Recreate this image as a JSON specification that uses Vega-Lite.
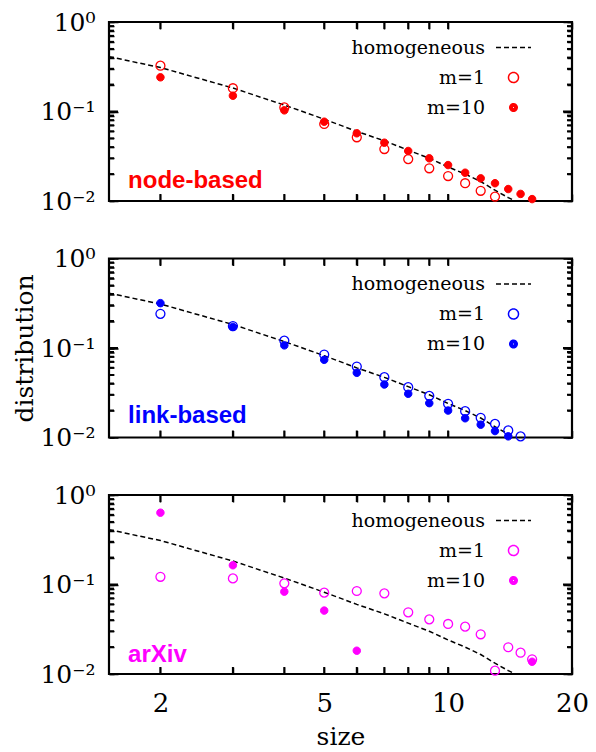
{
  "$schema": "https://vega.github.io/schema/vega-lite/v6.json",
  "background": "white",
  "padding": {"left": 11, "top": 8, "right": 5, "bottom": 5},
  "spacing": 57.5,
  "bounds": "flush",
  "datasets": {
    "xticks": [{"v": 2}, {"v": 3}, {"v": 4}, {"v": 5}, {"v": 6}, {"v": 7}, {"v": 8}, {"v": 9}, {"v": 10}],
    "yticks": [{"v": 0.02}, {"v": 0.03}, {"v": 0.04}, {"v": 0.05}, {"v": 0.06}, {"v": 0.07}, {"v": 0.08}, {"v": 0.09}, {"v": 0.1}, {"v": 0.2}, {"v": 0.3}, {"v": 0.4}, {"v": 0.5}, {"v": 0.6}, {"v": 0.7}, {"v": 0.8}, {"v": 0.9}],
    "homog": [
      {"size": 1.5, "series": "homogeneous", "p": 0.41},
      {"size": 2, "series": "homogeneous", "p": 0.31},
      {"size": 3, "series": "homogeneous", "p": 0.183},
      {"size": 4, "series": "homogeneous", "p": 0.118},
      {"size": 5, "series": "homogeneous", "p": 0.082},
      {"size": 6, "series": "homogeneous", "p": 0.060},
      {"size": 7, "series": "homogeneous", "p": 0.047},
      {"size": 8, "series": "homogeneous", "p": 0.037},
      {"size": 9, "series": "homogeneous", "p": 0.030},
      {"size": 10, "series": "homogeneous", "p": 0.024},
      {"size": 11, "series": "homogeneous", "p": 0.020},
      {"size": 12, "series": "homogeneous", "p": 0.0165},
      {"size": 13, "series": "homogeneous", "p": 0.0132},
      {"size": 14, "series": "homogeneous", "p": 0.0109},
      {"size": 15, "series": "homogeneous", "p": 0.0094}
    ],
    "node": [
      {"size": 2, "series": "m=1", "p": 0.325},
      {"size": 3, "series": "m=1", "p": 0.182},
      {"size": 4, "series": "m=1", "p": 0.111},
      {"size": 5, "series": "m=1", "p": 0.0725},
      {"size": 6, "series": "m=1", "p": 0.0515},
      {"size": 7, "series": "m=1", "p": 0.0381},
      {"size": 8, "series": "m=1", "p": 0.0294},
      {"size": 9, "series": "m=1", "p": 0.0232},
      {"size": 10, "series": "m=1", "p": 0.0190},
      {"size": 11, "series": "m=1", "p": 0.0158},
      {"size": 12, "series": "m=1", "p": 0.0130},
      {"size": 13, "series": "m=1", "p": 0.0112},
      {"size": 2, "series": "m=10", "p": 0.241},
      {"size": 3, "series": "m=10", "p": 0.150},
      {"size": 4, "series": "m=10", "p": 0.103},
      {"size": 5, "series": "m=10", "p": 0.0769},
      {"size": 6, "series": "m=10", "p": 0.0571},
      {"size": 7, "series": "m=10", "p": 0.0448},
      {"size": 8, "series": "m=10", "p": 0.0362},
      {"size": 9, "series": "m=10", "p": 0.0300},
      {"size": 10, "series": "m=10", "p": 0.0252},
      {"size": 11, "series": "m=10", "p": 0.0207},
      {"size": 12, "series": "m=10", "p": 0.0179},
      {"size": 13, "series": "m=10", "p": 0.0158},
      {"size": 14, "series": "m=10", "p": 0.0136},
      {"size": 15, "series": "m=10", "p": 0.0120},
      {"size": 16, "series": "m=10", "p": 0.0105}
    ],
    "link": [
      {"size": 2, "series": "m=1", "p": 0.241},
      {"size": 3, "series": "m=1", "p": 0.176},
      {"size": 4, "series": "m=1", "p": 0.121},
      {"size": 5, "series": "m=1", "p": 0.0846},
      {"size": 6, "series": "m=1", "p": 0.0621},
      {"size": 7, "series": "m=1", "p": 0.0472},
      {"size": 8, "series": "m=1", "p": 0.0365},
      {"size": 9, "series": "m=1", "p": 0.0292},
      {"size": 10, "series": "m=1", "p": 0.0238},
      {"size": 11, "series": "m=1", "p": 0.0197},
      {"size": 12, "series": "m=1", "p": 0.0166},
      {"size": 13, "series": "m=1", "p": 0.0142},
      {"size": 14, "series": "m=1", "p": 0.0120},
      {"size": 15, "series": "m=1", "p": 0.0103},
      {"size": 2, "series": "m=10", "p": 0.317},
      {"size": 3, "series": "m=10", "p": 0.172},
      {"size": 4, "series": "m=10", "p": 0.107},
      {"size": 5, "series": "m=10", "p": 0.0738},
      {"size": 6, "series": "m=10", "p": 0.0528},
      {"size": 7, "series": "m=10", "p": 0.0391},
      {"size": 8, "series": "m=10", "p": 0.0308},
      {"size": 9, "series": "m=10", "p": 0.0242},
      {"size": 10, "series": "m=10", "p": 0.0200},
      {"size": 11, "series": "m=10", "p": 0.0164},
      {"size": 12, "series": "m=10", "p": 0.0139},
      {"size": 13, "series": "m=10", "p": 0.0118},
      {"size": 14, "series": "m=10", "p": 0.0103}
    ],
    "arxiv": [
      {"size": 2, "series": "m=1", "p": 0.122},
      {"size": 3, "series": "m=1", "p": 0.117},
      {"size": 4, "series": "m=1", "p": 0.103},
      {"size": 5, "series": "m=1", "p": 0.0811},
      {"size": 6, "series": "m=1", "p": 0.0846},
      {"size": 7, "series": "m=1", "p": 0.0796},
      {"size": 8, "series": "m=1", "p": 0.0489},
      {"size": 9, "series": "m=1", "p": 0.0408},
      {"size": 10, "series": "m=1", "p": 0.0362},
      {"size": 11, "series": "m=1", "p": 0.0338},
      {"size": 12, "series": "m=1", "p": 0.0278},
      {"size": 13, "series": "m=1", "p": 0.0109},
      {"size": 14, "series": "m=1", "p": 0.0199},
      {"size": 15, "series": "m=1", "p": 0.0173},
      {"size": 16, "series": "m=1", "p": 0.0146},
      {"size": 2, "series": "m=10", "p": 0.634},
      {"size": 3, "series": "m=10", "p": 0.164},
      {"size": 4, "series": "m=10", "p": 0.0832},
      {"size": 5, "series": "m=10", "p": 0.0511},
      {"size": 6, "series": "m=10", "p": 0.0182},
      {"size": 16, "series": "m=10", "p": 0.0137}
    ]
  },
  "vconcat": [
    {
      "width": 463, "height": 179,
      "layer": [
        {
          "data": {"name": "homog"},
          "mark": {"type": "line", "clip": true, "strokeWidth": 1.5},
          "encoding": {
            "x": {"field": "size", "type": "quantitative", "scale": {"type": "log", "domain": [1.5, 20], "nice": false},
              "axis": {"orient": "bottom", "values": [2,3,4,5,6,7,8,9,10,20], "labels": false, "title": null, "tickSize": 7, "offset": -7}},
            "y": {"field": "p", "type": "quantitative", "scale": {"type": "log", "domain": [0.01, 1], "nice": false},
              "axis": {"orient": "left", "values": [0.01,0.02,0.03,0.04,0.05,0.06,0.07,0.08,0.09,0.1,0.2,0.3,0.4,0.5,0.6,0.7,0.8,0.9,1], "tickSize": 5, "offset": -5, "labelOverlap": false, "labelPadding": 14, "labelExpr": "datum.value == 1 ? '10⁰' : datum.value == 0.1 ? '10⁻¹' : datum.value == 0.01 ? '10⁻²' : ''", "title": null}},
            "stroke": {"field": "series", "type": "nominal", "scale": {"domain": ["homogeneous", "m=1", "m=10"], "range": ["black", "#ff0000", "#ff0000"]},
              "legend": {"title": null, "orient": "none", "legendX": 350, "legendY": 16, "padding": 0, "labelAlign": "right", "labelOffset": -38, "symbolOffset": 45, "rowPadding": 10, "symbolSize": 100, "labelLimit": 400, "symbolStrokeWidth": 1.5}},
            "strokeDash": {"field": "series", "type": "nominal", "scale": {"domain": ["homogeneous", "m=1", "m=10"], "range": [[5, 3], [1, 0], [1, 0]]},
              "legend": {"title": null, "orient": "none", "legendX": 350, "legendY": 16, "padding": 0, "labelAlign": "right", "labelOffset": -38, "symbolOffset": 45, "rowPadding": 10, "symbolSize": 100, "labelLimit": 400, "symbolStrokeWidth": 1.5}}
          }
        },
        {
          "data": {"name": "node"},
          "transform": [{"filter": "datum.series === 'm=1'"}],
          "mark": {"type": "point", "filled": false, "size": 80, "strokeWidth": 1.3, "opacity": 1},
          "encoding": {
            "x": {"field": "size", "type": "quantitative", "axis": {"orient": "top", "values": [2,3,4,5,6,7,8,9,10,20], "labels": false, "title": null, "tickSize": 7, "offset": -7}},
            "y": {"field": "p", "type": "quantitative", "axis": {"orient": "right", "values": [0.01,0.02,0.03,0.04,0.05,0.06,0.07,0.08,0.09,0.1,0.2,0.3,0.4,0.5,0.6,0.7,0.8,0.9,1], "labels": false, "title": null, "tickSize": 5, "offset": -5}},
            "stroke": {"field": "series", "type": "nominal"},
            "shape": {"field": "series", "type": "nominal", "scale": {"domain": ["homogeneous", "m=1", "m=10"], "range": ["M-3.5,0H3.5", "circle", "M-0.75,0A0.75,0.75,0,1,0,0.75,0A0.75,0.75,0,1,0,-0.75,0ZM-0.5,0A0.5,0.5,0,1,0,0.5,0A0.5,0.5,0,1,0,-0.5,0ZM-0.25,0A0.25,0.25,0,1,0,0.25,0A0.25,0.25,0,1,0,-0.25,0Z"]},
              "legend": {"title": null, "orient": "none", "legendX": 350, "legendY": 16, "padding": 0, "labelAlign": "right", "labelOffset": -38, "symbolOffset": 45, "rowPadding": 10, "symbolSize": 100, "labelLimit": 400, "symbolStrokeWidth": 1.5}}
          }
        },
        {
          "data": {"name": "node"},
          "transform": [{"filter": "datum.series === 'm=10'"}],
          "mark": {"type": "point", "filled": true, "fill": "#ff0000", "shape": "M-0.75,0A0.75,0.75,0,1,0,0.75,0A0.75,0.75,0,1,0,-0.75,0Z", "size": 100, "strokeWidth": 1, "opacity": 1},
          "encoding": {
            "x": {"field": "size", "type": "quantitative", "axis": null},
            "y": {"field": "p", "type": "quantitative", "axis": {"orient": "left", "values": [0.01, 0.1, 1], "labels": false, "title": null, "tickSize": 9, "offset": -9}},
            "stroke": {"field": "series", "type": "nominal"}
          }
        },
        {
          "data": {"values": [{}]},
          "mark": {"type": "text", "text": "node-based", "font": "Liberation Sans", "fontWeight": "bold", "fontSize": 24, "align": "left", "baseline": "alphabetic", "fill": "#ff0000"},
          "encoding": {
            "x": {"datum": 1.669, "type": "quantitative", "axis": null},
            "y": {"datum": 0.01396, "type": "quantitative", "axis": {"orient": "right", "values": [0.01, 0.1, 1], "labels": false, "title": null, "tickSize": 9, "offset": -9}}
          }
        },
        {
          "data": {"name": "xticks"},
          "mark": {"type": "tick", "orient": "vertical", "size": 14, "thickness": 2, "color": "black", "clip": true, "opacity": 1},
          "encoding": {"x": {"field": "v", "type": "quantitative", "axis": null}, "y": {"datum": 0.01, "type": "quantitative", "axis": null}}
        },
        {
          "data": {"name": "xticks"},
          "mark": {"type": "tick", "orient": "vertical", "size": 14, "thickness": 2, "color": "black", "clip": true, "opacity": 1},
          "encoding": {"x": {"field": "v", "type": "quantitative", "axis": null}, "y": {"datum": 1, "type": "quantitative", "axis": null}}
        },
        {
          "data": {"name": "yticks"},
          "mark": {"type": "tick", "orient": "horizontal", "thickness": 2, "color": "black", "clip": true, "opacity": 1},
          "encoding": {"y": {"field": "v", "type": "quantitative", "axis": null}, "x": {"datum": 1.5, "type": "quantitative", "axis": null}, "size": {"condition": {"test": "datum.v == 0.1", "value": 18}, "value": 10}}
        },
        {
          "data": {"name": "yticks"},
          "mark": {"type": "tick", "orient": "horizontal", "thickness": 2, "color": "black", "clip": true, "opacity": 1},
          "encoding": {"y": {"field": "v", "type": "quantitative", "axis": null}, "x": {"datum": 20, "type": "quantitative", "axis": null}, "size": {"condition": {"test": "datum.v == 0.1", "value": 18}, "value": 10}}
        }
      ],
      "resolve": {"axis": {"x": "independent", "y": "independent"}}
    },
    {
      "width": 463, "height": 179,
      "layer": [
        {
          "data": {"name": "homog"},
          "mark": {"type": "line", "clip": true, "strokeWidth": 1.5},
          "encoding": {
            "x": {"field": "size", "type": "quantitative", "scale": {"type": "log", "domain": [1.5, 20], "nice": false},
              "axis": {"orient": "bottom", "values": [2,3,4,5,6,7,8,9,10,20], "labels": false, "title": null, "tickSize": 7, "offset": -7}},
            "y": {"field": "p", "type": "quantitative", "scale": {"type": "log", "domain": [0.01, 1], "nice": false},
              "axis": {"orient": "left", "values": [0.01,0.02,0.03,0.04,0.05,0.06,0.07,0.08,0.09,0.1,0.2,0.3,0.4,0.5,0.6,0.7,0.8,0.9,1], "tickSize": 5, "offset": -5, "labelOverlap": false, "labelPadding": 14, "labelExpr": "datum.value == 1 ? '10⁰' : datum.value == 0.1 ? '10⁻¹' : datum.value == 0.01 ? '10⁻²' : ''", "title": "distribution", "titlePadding": 2}},
            "stroke": {"field": "series", "type": "nominal", "scale": {"domain": ["homogeneous", "m=1", "m=10"], "range": ["black", "#0000ff", "#0000ff"]},
              "legend": {"title": null, "orient": "none", "legendX": 350, "legendY": 16, "padding": 0, "labelAlign": "right", "labelOffset": -38, "symbolOffset": 45, "rowPadding": 10, "symbolSize": 100, "labelLimit": 400, "symbolStrokeWidth": 1.5}},
            "strokeDash": {"field": "series", "type": "nominal", "scale": {"domain": ["homogeneous", "m=1", "m=10"], "range": [[5, 3], [1, 0], [1, 0]]},
              "legend": {"title": null, "orient": "none", "legendX": 350, "legendY": 16, "padding": 0, "labelAlign": "right", "labelOffset": -38, "symbolOffset": 45, "rowPadding": 10, "symbolSize": 100, "labelLimit": 400, "symbolStrokeWidth": 1.5}}
          }
        },
        {
          "data": {"name": "link"},
          "transform": [{"filter": "datum.series === 'm=1'"}],
          "mark": {"type": "point", "filled": false, "size": 80, "strokeWidth": 1.3, "opacity": 1},
          "encoding": {
            "x": {"field": "size", "type": "quantitative", "axis": {"orient": "top", "values": [2,3,4,5,6,7,8,9,10,20], "labels": false, "title": null, "tickSize": 7, "offset": -7}},
            "y": {"field": "p", "type": "quantitative", "axis": {"orient": "right", "values": [0.01,0.02,0.03,0.04,0.05,0.06,0.07,0.08,0.09,0.1,0.2,0.3,0.4,0.5,0.6,0.7,0.8,0.9,1], "labels": false, "title": null, "tickSize": 5, "offset": -5}},
            "stroke": {"field": "series", "type": "nominal"},
            "shape": {"field": "series", "type": "nominal", "scale": {"domain": ["homogeneous", "m=1", "m=10"], "range": ["M-3.5,0H3.5", "circle", "M-0.75,0A0.75,0.75,0,1,0,0.75,0A0.75,0.75,0,1,0,-0.75,0ZM-0.5,0A0.5,0.5,0,1,0,0.5,0A0.5,0.5,0,1,0,-0.5,0ZM-0.25,0A0.25,0.25,0,1,0,0.25,0A0.25,0.25,0,1,0,-0.25,0Z"]},
              "legend": {"title": null, "orient": "none", "legendX": 350, "legendY": 16, "padding": 0, "labelAlign": "right", "labelOffset": -38, "symbolOffset": 45, "rowPadding": 10, "symbolSize": 100, "labelLimit": 400, "symbolStrokeWidth": 1.5}}
          }
        },
        {
          "data": {"name": "link"},
          "transform": [{"filter": "datum.series === 'm=10'"}],
          "mark": {"type": "point", "filled": true, "fill": "#0000ff", "shape": "M-0.75,0A0.75,0.75,0,1,0,0.75,0A0.75,0.75,0,1,0,-0.75,0Z", "size": 100, "strokeWidth": 1, "opacity": 1},
          "encoding": {
            "x": {"field": "size", "type": "quantitative", "axis": null},
            "y": {"field": "p", "type": "quantitative", "axis": {"orient": "left", "values": [0.01, 0.1, 1], "labels": false, "title": null, "tickSize": 9, "offset": -9}},
            "stroke": {"field": "series", "type": "nominal"}
          }
        },
        {
          "data": {"values": [{}]},
          "mark": {"type": "text", "text": "link-based", "font": "Liberation Sans", "fontWeight": "bold", "fontSize": 24, "align": "left", "baseline": "alphabetic", "fill": "#0000ff"},
          "encoding": {
            "x": {"datum": 1.669, "type": "quantitative", "axis": null},
            "y": {"datum": 0.01445, "type": "quantitative", "axis": {"orient": "right", "values": [0.01, 0.1, 1], "labels": false, "title": null, "tickSize": 9, "offset": -9}}
          }
        },
        {
          "data": {"name": "xticks"},
          "mark": {"type": "tick", "orient": "vertical", "size": 14, "thickness": 2, "color": "black", "clip": true, "opacity": 1},
          "encoding": {"x": {"field": "v", "type": "quantitative", "axis": null}, "y": {"datum": 0.01, "type": "quantitative", "axis": null}}
        },
        {
          "data": {"name": "xticks"},
          "mark": {"type": "tick", "orient": "vertical", "size": 14, "thickness": 2, "color": "black", "clip": true, "opacity": 1},
          "encoding": {"x": {"field": "v", "type": "quantitative", "axis": null}, "y": {"datum": 1, "type": "quantitative", "axis": null}}
        },
        {
          "data": {"name": "yticks"},
          "mark": {"type": "tick", "orient": "horizontal", "thickness": 2, "color": "black", "clip": true, "opacity": 1},
          "encoding": {"y": {"field": "v", "type": "quantitative", "axis": null}, "x": {"datum": 1.5, "type": "quantitative", "axis": null}, "size": {"condition": {"test": "datum.v == 0.1", "value": 18}, "value": 10}}
        },
        {
          "data": {"name": "yticks"},
          "mark": {"type": "tick", "orient": "horizontal", "thickness": 2, "color": "black", "clip": true, "opacity": 1},
          "encoding": {"y": {"field": "v", "type": "quantitative", "axis": null}, "x": {"datum": 20, "type": "quantitative", "axis": null}, "size": {"condition": {"test": "datum.v == 0.1", "value": 18}, "value": 10}}
        }
      ],
      "resolve": {"axis": {"x": "independent", "y": "independent"}}
    },
    {
      "width": 463, "height": 179,
      "layer": [
        {
          "data": {"name": "homog"},
          "mark": {"type": "line", "clip": true, "strokeWidth": 1.5},
          "encoding": {
            "x": {"field": "size", "type": "quantitative", "scale": {"type": "log", "domain": [1.5, 20], "nice": false},
              "axis": {"orient": "bottom", "values": [2,3,4,5,6,7,8,9,10,20], "tickSize": 7, "offset": -7, "labelOverlap": false, "labelFlush": false, "labelPadding": 16, "labelExpr": "(datum.value == 2 || datum.value == 5 || datum.value == 10 || datum.value == 20) ? '' + datum.value : ''", "title": "size", "titlePadding": 8}},
            "y": {"field": "p", "type": "quantitative", "scale": {"type": "log", "domain": [0.01, 1], "nice": false},
              "axis": {"orient": "left", "values": [0.01,0.02,0.03,0.04,0.05,0.06,0.07,0.08,0.09,0.1,0.2,0.3,0.4,0.5,0.6,0.7,0.8,0.9,1], "tickSize": 5, "offset": -5, "labelOverlap": false, "labelPadding": 14, "labelExpr": "datum.value == 1 ? '10⁰' : datum.value == 0.1 ? '10⁻¹' : datum.value == 0.01 ? '10⁻²' : ''", "title": null}},
            "stroke": {"field": "series", "type": "nominal", "scale": {"domain": ["homogeneous", "m=1", "m=10"], "range": ["black", "#ff00ff", "#ff00ff"]},
              "legend": {"title": null, "orient": "none", "legendX": 350, "legendY": 16, "padding": 0, "labelAlign": "right", "labelOffset": -38, "symbolOffset": 45, "rowPadding": 10, "symbolSize": 100, "labelLimit": 400, "symbolStrokeWidth": 1.5}},
            "strokeDash": {"field": "series", "type": "nominal", "scale": {"domain": ["homogeneous", "m=1", "m=10"], "range": [[5, 3], [1, 0], [1, 0]]},
              "legend": {"title": null, "orient": "none", "legendX": 350, "legendY": 16, "padding": 0, "labelAlign": "right", "labelOffset": -38, "symbolOffset": 45, "rowPadding": 10, "symbolSize": 100, "labelLimit": 400, "symbolStrokeWidth": 1.5}}
          }
        },
        {
          "data": {"name": "arxiv"},
          "transform": [{"filter": "datum.series === 'm=1'"}],
          "mark": {"type": "point", "filled": false, "size": 80, "strokeWidth": 1.3, "opacity": 1},
          "encoding": {
            "x": {"field": "size", "type": "quantitative", "axis": {"orient": "top", "values": [2,3,4,5,6,7,8,9,10,20], "labels": false, "title": null, "tickSize": 7, "offset": -7}},
            "y": {"field": "p", "type": "quantitative", "axis": {"orient": "right", "values": [0.01,0.02,0.03,0.04,0.05,0.06,0.07,0.08,0.09,0.1,0.2,0.3,0.4,0.5,0.6,0.7,0.8,0.9,1], "labels": false, "title": null, "tickSize": 5, "offset": -5}},
            "stroke": {"field": "series", "type": "nominal"},
            "shape": {"field": "series", "type": "nominal", "scale": {"domain": ["homogeneous", "m=1", "m=10"], "range": ["M-3.5,0H3.5", "circle", "M-0.75,0A0.75,0.75,0,1,0,0.75,0A0.75,0.75,0,1,0,-0.75,0ZM-0.5,0A0.5,0.5,0,1,0,0.5,0A0.5,0.5,0,1,0,-0.5,0ZM-0.25,0A0.25,0.25,0,1,0,0.25,0A0.25,0.25,0,1,0,-0.25,0Z"]},
              "legend": {"title": null, "orient": "none", "legendX": 350, "legendY": 16, "padding": 0, "labelAlign": "right", "labelOffset": -38, "symbolOffset": 45, "rowPadding": 10, "symbolSize": 100, "labelLimit": 400, "symbolStrokeWidth": 1.5}}
          }
        },
        {
          "data": {"name": "arxiv"},
          "transform": [{"filter": "datum.series === 'm=10'"}],
          "mark": {"type": "point", "filled": true, "fill": "#ff00ff", "shape": "M-0.75,0A0.75,0.75,0,1,0,0.75,0A0.75,0.75,0,1,0,-0.75,0Z", "size": 100, "strokeWidth": 1, "opacity": 1},
          "encoding": {
            "x": {"field": "size", "type": "quantitative", "axis": null},
            "y": {"field": "p", "type": "quantitative", "axis": {"orient": "left", "values": [0.01, 0.1, 1], "labels": false, "title": null, "tickSize": 9, "offset": -9}},
            "stroke": {"field": "series", "type": "nominal"}
          }
        },
        {
          "data": {"values": [{}]},
          "mark": {"type": "text", "text": "arXiv", "font": "Liberation Sans", "fontWeight": "bold", "fontSize": 24, "align": "left", "baseline": "alphabetic", "fill": "#ff00ff"},
          "encoding": {
            "x": {"datum": 1.669, "type": "quantitative", "axis": null},
            "y": {"datum": 0.0137, "type": "quantitative", "axis": {"orient": "right", "values": [0.01, 0.1, 1], "labels": false, "title": null, "tickSize": 9, "offset": -9}}
          }
        },
        {
          "data": {"name": "xticks"},
          "mark": {"type": "tick", "orient": "vertical", "size": 14, "thickness": 2, "color": "black", "clip": true, "opacity": 1},
          "encoding": {"x": {"field": "v", "type": "quantitative", "axis": null}, "y": {"datum": 0.01, "type": "quantitative", "axis": null}}
        },
        {
          "data": {"name": "xticks"},
          "mark": {"type": "tick", "orient": "vertical", "size": 14, "thickness": 2, "color": "black", "clip": true, "opacity": 1},
          "encoding": {"x": {"field": "v", "type": "quantitative", "axis": null}, "y": {"datum": 1, "type": "quantitative", "axis": null}}
        },
        {
          "data": {"name": "yticks"},
          "mark": {"type": "tick", "orient": "horizontal", "thickness": 2, "color": "black", "clip": true, "opacity": 1},
          "encoding": {"y": {"field": "v", "type": "quantitative", "axis": null}, "x": {"datum": 1.5, "type": "quantitative", "axis": null}, "size": {"condition": {"test": "datum.v == 0.1", "value": 18}, "value": 10}}
        },
        {
          "data": {"name": "yticks"},
          "mark": {"type": "tick", "orient": "horizontal", "thickness": 2, "color": "black", "clip": true, "opacity": 1},
          "encoding": {"y": {"field": "v", "type": "quantitative", "axis": null}, "x": {"datum": 20, "type": "quantitative", "axis": null}, "size": {"condition": {"test": "datum.v == 0.1", "value": 18}, "value": 10}}
        }
      ],
      "resolve": {"axis": {"x": "independent", "y": "independent"}}
    }
  ],
  "resolve": {"scale": {"x": "independent", "y": "independent", "stroke": "independent", "strokeDash": "independent", "shape": "independent"}, "legend": {"stroke": "independent", "strokeDash": "independent", "shape": "independent"}},
  "config": {
    "view": {"stroke": "black", "strokeWidth": 2.2},
    "axis": {"domain": false, "grid": false, "ticks": true, "tickColor": "black", "tickWidth": 1.5, "tickOpacity": 1, "labelFont": "DejaVu Serif", "labelFontSize": 26, "labelColor": "black", "titleFont": "DejaVu Serif", "titleFontSize": 25, "titleFontWeight": "normal", "titleColor": "black"},
    "axisY": {"labelFontSize": 25},
    "legend": {"labelFont": "DejaVu Serif", "labelFontSize": 19, "labelColor": "black"}
  }
}
